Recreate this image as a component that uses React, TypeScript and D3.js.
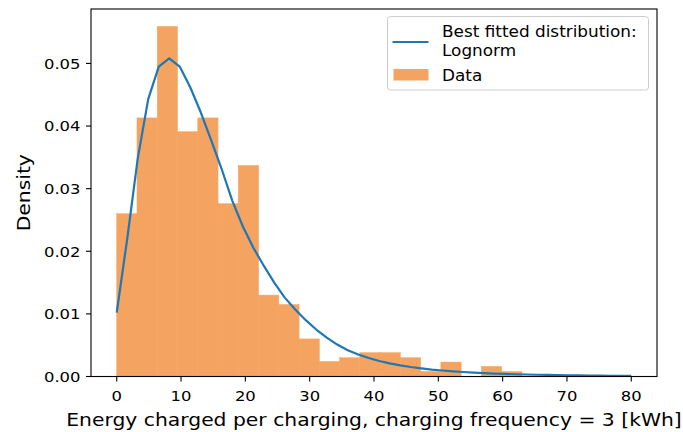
import React from "react";
import * as d3 from "d3";

// Histogram (density) values, 20 equal bins from 0 to 63 kWh
const binStart = 0;
const binEnd = 63;
const histDensity = [
  0.0260, 0.0413, 0.0559, 0.0391, 0.0413, 0.0276, 0.0337, 0.0130, 0.0115, 0.0060,
  0.0024, 0.0030, 0.0038, 0.0038, 0.0030, 0.0008, 0.0023, 0.0, 0.0016, 0.0008,
];

// Fitted lognorm pdf evaluated at 50 points from 0 to 80
const curveStart = 0;
const curveEnd = 80;
const curveDensity = [
  0.0102, 0.0220, 0.0348, 0.0443, 0.0495, 0.0508, 0.0495, 0.0462, 0.0422, 0.0377,
  0.0331, 0.0281, 0.0240, 0.0206, 0.0177, 0.0150, 0.0126, 0.0107, 0.0090, 0.0075,
  0.0062, 0.0051, 0.0042, 0.00352, 0.00295, 0.00248, 0.00210, 0.00178, 0.00152, 0.00130,
  0.00111, 0.00096, 0.00083, 0.00072, 0.00062, 0.00054, 0.00047, 0.00041, 0.00036, 0.00032,
  0.00028, 0.00025, 0.00022, 0.00019, 0.00017, 0.00015, 0.00013, 0.00012, 0.00011, 0.00010,
];

const xTicks = [0, 10, 20, 30, 40, 50, 60, 70, 80];
const yTicks = [0, 0.01, 0.02, 0.03, 0.04, 0.05];

const xLabel = "Energy charged per charging, charging frequency = 3 [kWh]";
const yLabel = "Density";
const legendLine = ["Best fitted distribution:", "Lognorm"];
const legendData = "Data";

const font = "DejaVu Sans, sans-serif";
const SX = 1.11;

function T(props: { x: number; y: number; size: number; anchor?: string; rotate?: number; dy?: string; children: React.ReactNode }) {
  const { x, y, size, anchor = "start", rotate = 0, dy, children } = props;
  return (
    <text
      transform={`translate(${x},${y}) rotate(${rotate}) scale(${SX},1)`}
      textAnchor={anchor as any}
      dy={dy}
      fontFamily={font}
      fontSize={size}
      fill="#000"
    >
      {children}
    </text>
  );
}

export default function App() {
  const W = 683, H = 432;
  const left = 91, right = 657, top = 9, bottom = 376.5;

  const x = d3.scaleLinear().domain([-4, 84]).range([left, right]);
  const yMax = d3.max(histDensity)! * 1.05;
  const y = d3.scaleLinear().domain([0, yMax]).range([bottom, top]);

  const n = histDensity.length;
  const bw = (binEnd - binStart) / n;
  const bins = histDensity.map((v, i) => ({ x0: binStart + i * bw, x1: binStart + (i + 1) * bw, v }));

  const cx = d3.range(curveDensity.length).map(i => curveStart + (i * (curveEnd - curveStart)) / (curveDensity.length - 1));
  const line = d3.line<number>().x((_, i) => x(cx[i])).y(d => y(d));

  const tick = 5;
  const barColor = "#f4a460";
  return (
    <svg width={W} height={H} style={{ position: "absolute", left: 0, top: 0, background: "#fff" }}>
      <g>
        {bins.filter(b => b.v > 0).map((b, i) => (
          <rect key={i} x={x(b.x0)} y={y(b.v)} width={x(b.x1) - x(b.x0)} height={y(0) - y(b.v)} fill={barColor} stroke={barColor} strokeWidth={0.5} />
        ))}
      </g>
      <path d={line(curveDensity) || ""} fill="none" stroke="#1f77b4" strokeWidth={2.2} strokeLinejoin="round" />
      <rect x={left} y={top} width={right - left} height={bottom - top} fill="none" stroke="#000" strokeWidth={1.1} />
      {xTicks.map(t => (
        <g key={t}>
          <line x1={x(t)} x2={x(t)} y1={bottom} y2={bottom + tick} stroke="#000" strokeWidth={1.1} />
          <T x={x(t)} y={401} size={14.8} anchor="middle">{t}</T>
        </g>
      ))}
      {yTicks.map(t => (
        <g key={t}>
          <line x1={left - tick} x2={left} y1={y(t)} y2={y(t)} stroke="#000" strokeWidth={1.1} />
          <T x={left - 10.5} y={y(t)} dy="0.36em" size={14.8} anchor="end">{t.toFixed(2)}</T>
        </g>
      ))}
      <T x={(left + right) / 2} y={426} size={18.3} anchor="middle">{xLabel}</T>
      <T x={30} y={(top + bottom) / 2} size={18.3} anchor="middle" rotate={-90}>{yLabel}</T>
      <g>
        <rect x={387.5} y={16.5} width={261} height={73.5} rx={3} fill="#fff" fillOpacity={0.8} stroke="#cccccc" strokeWidth={1} />
        <line x1={392.5} x2={428.5} y1={42} y2={42} stroke="#1f77b4" strokeWidth={2.2} />
        <T x={442} y={37} size={15.2}>{legendLine[0]}</T>
        <T x={442} y={56} size={15.2}>{legendLine[1]}</T>
        <rect x={393.5} y={69} width={35} height={11.5} fill={barColor} />
        <T x={442} y={80.5} size={15.2}>{legendData}</T>
      </g>
    </svg>
  );
}
